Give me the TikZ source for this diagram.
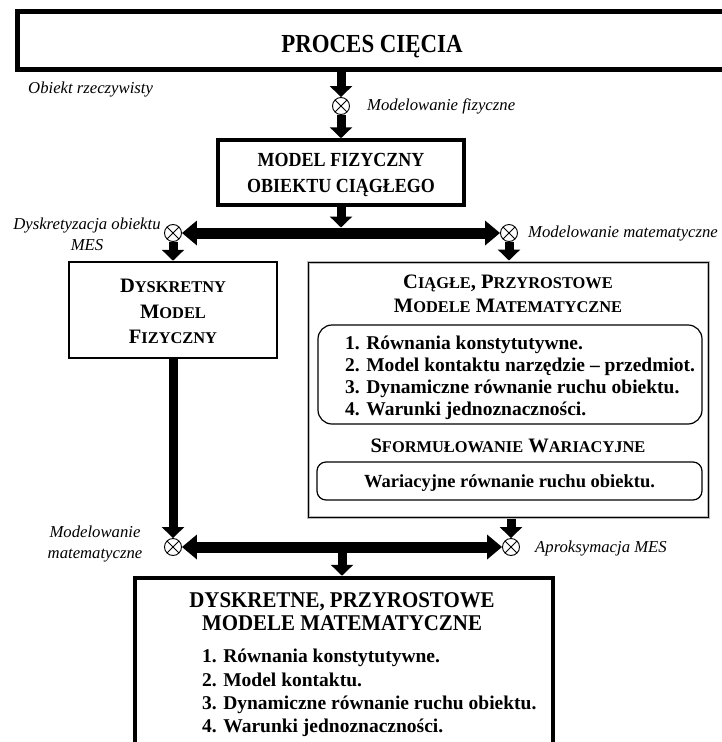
\documentclass[tikz,border=0pt]{standalone}
\usepackage{graphicx}
\usepackage{fontspec}
\setmainfont{Liberation Serif}
\usetikzlibrary{arrows.meta,calc}
\newcommand{\fs}[1]{\fontsize{#1}{#1}\selectfont}
\newcommand{\smc}[1]{{\fs{16.4}#1}}
\newcommand{\cond}[2]{\scalebox{#1}[1]{#2}}
\begin{document}
\begin{tikzpicture}[x=1pt,y=-1pt,
  frame/.style={draw, inner sep=0pt, fill=white},
  lbl/.style={inner sep=0pt, font=\fs{16.7}\itshape},
  cross/.style={circle, draw, line width=0.9pt, minimum size=17pt, inner sep=0pt, fill=white,
    path picture={\draw[line width=0.9pt] (path picture bounding box.south west) -- (path picture bounding box.north east)
      (path picture bounding box.north west) -- (path picture bounding box.south east);}},
  varrow/.style={line width=9pt, -{Triangle[width=22pt,length=11pt]}},
  harrow/.style={line width=11pt, -{Triangle[width=24pt,length=15pt]}},
  rbox/.style={draw, line width=1.2pt, inner sep=0pt},
]
\useasboundingbox (0,0) rectangle (722,742);
\clip (0,0) rectangle (722,742);

% boxes
\node[frame, line width=4.5pt, minimum width=710.5pt, minimum height=57.8pt] (top) at (372.75,40.6) {};
\node[frame, line width=3.5pt, minimum width=246pt, minimum height=65pt] (model) at (341,172.5) {};
\node[frame, line width=2.5pt, minimum width=208pt, minimum height=96pt] (dysk) at (173,310) {};
\node[draw=gray!55, fill=white, line width=3pt, inner sep=0pt, minimum width=400pt, minimum height=255pt] (big) at (508,389.5) {};
\draw[line width=0.8pt] ($(big.north west)+(1.5,1.5)$) rectangle ($(big.south east)+(-1.5,-1.5)$);
\node[rbox, rounded corners=14pt, minimum width=384pt, minimum height=99pt] (rb1) at (510,374.5) {};
\node[rbox, rounded corners=9pt, minimum width=385pt, minimum height=38pt] (rb2) at (509.5,481) {};
\node[frame, line width=4.5pt, minimum width=418pt, minimum height=190pt] (bot) at (344,673) {};

% junctions
\node[cross] (c1) at (341,106) {};
\node[cross] (cL) at (173,233) {};
\node[cross] (cR) at (509,233) {};
\node[cross] (cBL) at (173,547) {};
\node[cross] (cBR) at (511,547) {};
\coordinate (j1) at (341,233);
\coordinate (j1t) at (341,227.5);
\coordinate (j2) at (342,547);

% connectors
\draw[varrow] (c1 |- top.south) -- (c1.north);
\draw[varrow] (c1.south) -- (c1 |- model.north);
\draw[varrow] (model.south) -- (j1t);
\draw[harrow] (j1) -- (cL.east);
\draw[harrow] (j1) -- (cR.west);
\draw[varrow] (cL.south) -- (cL |- dysk.north);
\draw[varrow] (cR.south) -- (cR |- big.north);
\draw[varrow] (cBL |- dysk.south) -- (cBL.north);
\draw[varrow] (cBR |- big.south) -- (cBR.north);
\draw[harrow] (j2) -- (cBL.east);
\draw[harrow] (j2) -- (cBR.west);
\draw[varrow] (j2) -- (j2 |- bot.north);

% texts
\node[inner sep=0pt, anchor=base, font=\fs{26}\bfseries] (ttop) at (372,52) {\cond{0.88}{PROCES CIĘCIA}};
\node[lbl, anchor=base west] (l1) at (28,93) {Obiekt rzeczywisty};
\node[lbl, anchor=base west] (l2) at (367,110) {Modelowanie fizyczne};
\node[inner sep=0pt, anchor=base, font=\fs{20}\bfseries] (m1) at (341,166) {\cond{0.9}{MODEL FIZYCZNY}};
\node[inner sep=0pt, anchor=base, font=\fs{20}\bfseries] (m2) at (341,192) {\cond{0.9}{OBIEKTU CIĄGŁEGO}};
\node[lbl, anchor=base] (l3a) at (87,229) {Dyskretyzacja obiektu};
\node[lbl, anchor=base] (l3b) at (87,250) {MES};
\node[lbl, anchor=base west] (l4) at (528,237) {Modelowanie matematyczne};

\node[inner sep=0pt, anchor=base, font=\fs{20.5}\bfseries] (d1) at (173,292) {D\smc{YSKRETNY}};
\node[inner sep=0pt, anchor=base, font=\fs{20.5}\bfseries] (d2) at (173,318) {M\smc{ODEL}};
\node[inner sep=0pt, anchor=base, font=\fs{20.5}\bfseries] (d3) at (173,343) {F\smc{IZYCZNY}};

\node[inner sep=0pt, anchor=base, font=\fs{20.5}\bfseries] (g1) at (508,288) {C\smc{IĄGŁE}, P\smc{RZYROSTOWE}};
\node[inner sep=0pt, anchor=base, font=\fs{20.5}\bfseries] (g2) at (508,312) {M\smc{ODELE} M\smc{ATEMATYCZNE}};
\node[inner sep=0pt, anchor=base west, font=\fs{19.5}\bfseries] (i1) at (345,349) {1. Równania konstytutywne.};
\node[inner sep=0pt, anchor=base west, font=\fs{19.5}\bfseries] (i2) at (345,371) {2. Model kontaktu narzędzie – przedmiot.};
\node[inner sep=0pt, anchor=base west, font=\fs{19.5}\bfseries] (i3) at (345,393) {3. Dynamiczne równanie ruchu obiektu.};
\node[inner sep=0pt, anchor=base west, font=\fs{19.5}\bfseries] (i4) at (345,415) {4. Warunki jednoznaczności.};
\node[inner sep=0pt, anchor=base, font=\fs{20.5}\bfseries] (sw) at (508,452) {S\smc{FORMUŁOWANIE} W\smc{ARIACYJNE}};
\node[inner sep=0pt, anchor=base, font=\fs{18.5}\bfseries] (wr) at (509.5,487) {Wariacyjne równanie ruchu obiektu.};

\node[lbl, anchor=base] (l5a) at (95,537) {Modelowanie};
\node[lbl, anchor=base] (l5b) at (95,558) {matematyczne};
\node[lbl, anchor=base west] (l6) at (535,552) {Aproksymacja MES};

\node[inner sep=0pt, anchor=base, font=\fs{22.5}\bfseries] (b1) at (342,607) {\cond{0.93}{DYSKRETNE, PRZYROSTOWE}};
\node[inner sep=0pt, anchor=base, font=\fs{22.5}\bfseries] (b2) at (342,630) {\cond{0.93}{MODELE MATEMATYCZNE}};
\node[inner sep=0pt, anchor=base west, font=\fs{19.5}\bfseries] (k1) at (202,662) {1. Równania konstytutywne.};
\node[inner sep=0pt, anchor=base west, font=\fs{19.5}\bfseries] (k2) at (202,686) {2. Model kontaktu.};
\node[inner sep=0pt, anchor=base west, font=\fs{19.5}\bfseries] (k3) at (202,709) {3. Dynamiczne równanie ruchu obiektu.};
\node[inner sep=0pt, anchor=base west, font=\fs{19.5}\bfseries] (k4) at (202,732) {4. Warunki jednoznaczności.};
\end{tikzpicture}
\end{document}
